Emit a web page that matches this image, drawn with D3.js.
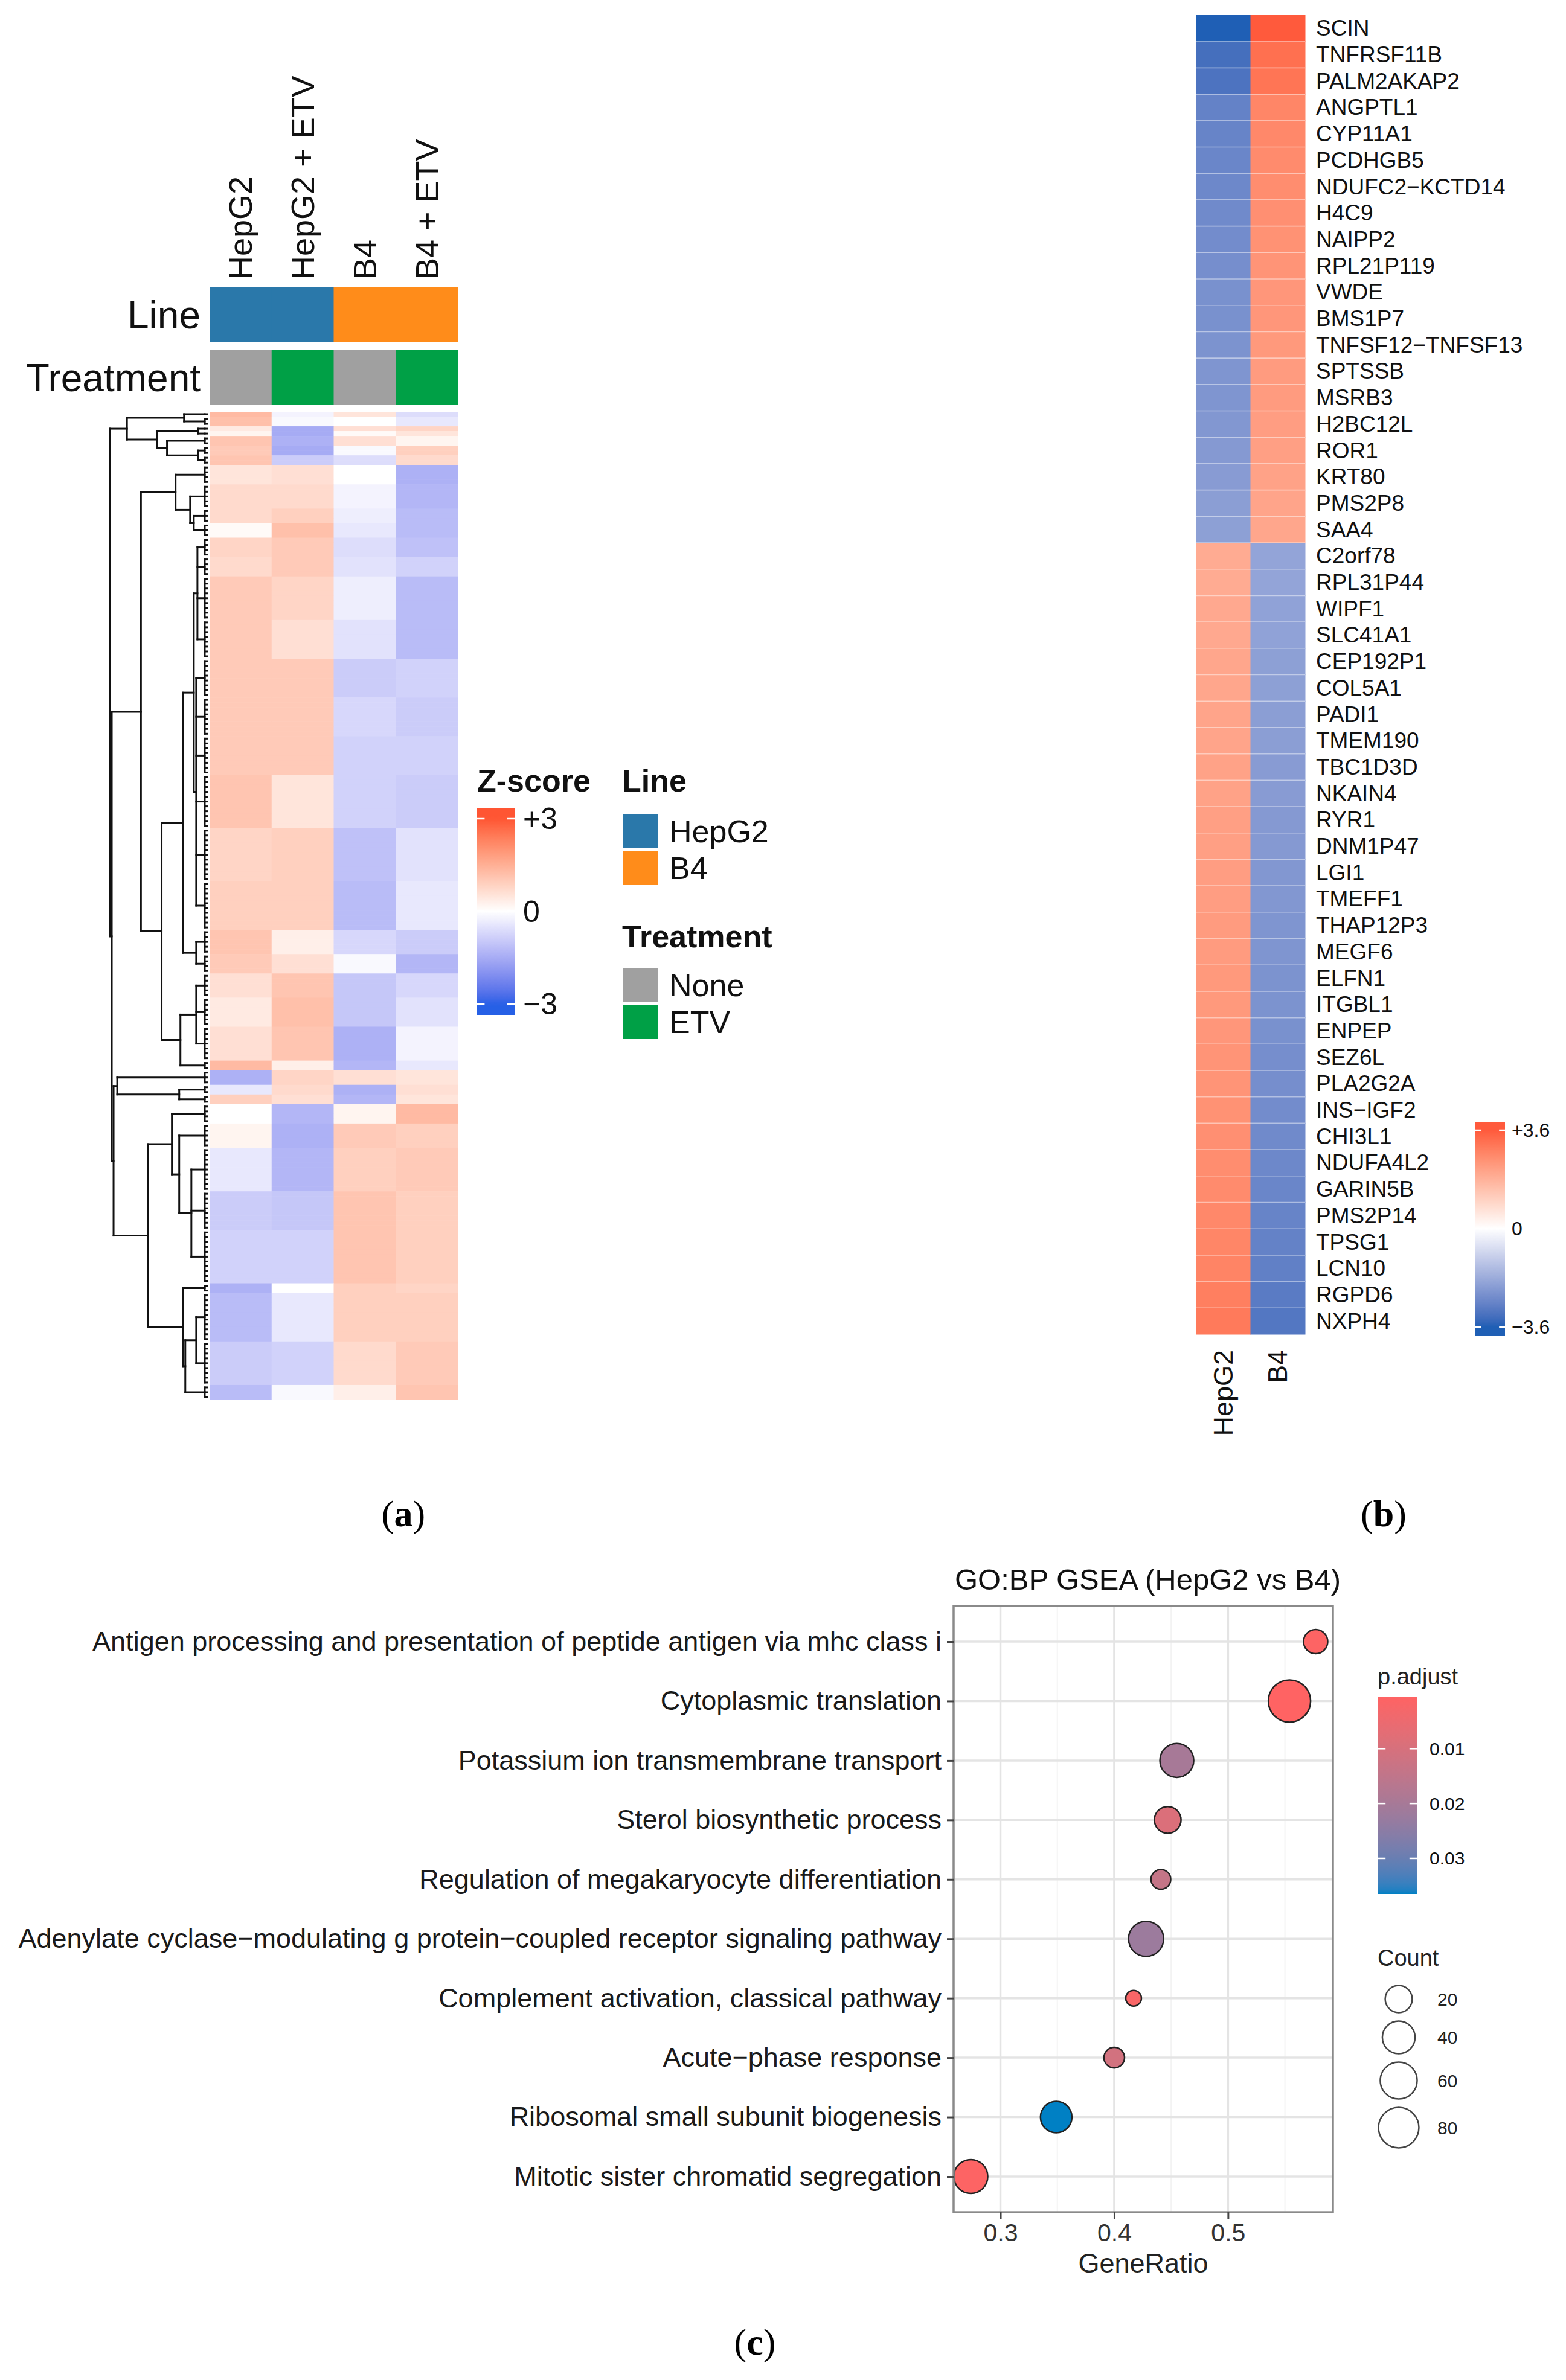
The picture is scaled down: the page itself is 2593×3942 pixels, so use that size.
<!DOCTYPE html>
<html>
<head>
<meta charset="utf-8">
<script src="https://cdn.jsdelivr.net/npm/d3@7"></script>
<style>
  body { margin: 0; background: #fff; }
  svg { display: block; font-family: "Liberation Sans", Arial, Helvetica, sans-serif; }
</style>
</head>
<body>
<svg id="fig" width="2593" height="3942"></svg>
<script>
// ---------- panel (a): z-score heatmap
const sampleNames = ['HepG2', 'HepG2 + ETV', 'B4', 'B4 + ETV'];
const sampleLine = ['HepG2', 'HepG2', 'B4', 'B4'];
const sampleTreatment = ['None', 'ETV', 'None', 'ETV'];
const lineLevels = ['HepG2', 'B4'];
const treatmentLevels = ['None', 'ETV'];

// [genes in band, HepG2, HepG2 + ETV, B4, B4 + ETV]
const zBands = [
  [1, 1.3, -0.2, 0.5, -0.6],
  [2, 1.2, -0.1, 0.0, -0.4],
  [1, 0.4, -1.5, 0.6, 0.8],
  [1, 0.2, -1.5, 0.1, 0.5],
  [2, 1.1, -1.4, 0.6, 0.2],
  [2, 1.0, -1.5, -0.1, 0.9],
  [2, 1.1, -0.9, -0.6, 0.7],
  [4, 0.5, 0.6, 0.0, -1.4],
  [5, 0.7, 0.7, -0.2, -1.3],
  [3, 0.7, 0.9, -0.3, -1.2],
  [3, 0.1, 1.2, -0.4, -1.2],
  [4, 0.8, 1.0, -0.6, -1.1],
  [4, 0.7, 1.0, -0.5, -0.8],
  [9, 1.0, 0.8, -0.3, -1.2],
  [8, 1.0, 0.6, -0.5, -1.2],
  [8, 1.0, 1.0, -0.9, -0.8],
  [8, 1.0, 1.0, -0.7, -0.9],
  [8, 1.0, 1.0, -0.8, -0.8],
  [11, 1.1, 0.5, -0.8, -0.9],
  [11, 0.8, 0.9, -1.1, -0.5],
  [10, 0.9, 0.9, -1.2, -0.4],
  [5, 1.1, 0.3, -0.7, -0.9],
  [4, 1.0, 0.6, -0.1, -1.3],
  [5, 0.6, 1.1, -1.0, -0.7],
  [6, 0.4, 1.2, -1.0, -0.5],
  [7, 0.6, 1.1, -1.4, -0.2],
  [2, 1.3, 0.3, -1.3, -0.4],
  [3, -1.4, 0.8, 0.6, 0.5],
  [2, -0.4, 0.7, -1.4, 0.6],
  [2, 0.9, 0.6, -1.3, 0.5],
  [4, 0.0, -1.3, 0.2, 1.3],
  [5, 0.2, -1.4, 1.0, 0.9],
  [9, -0.4, -1.3, 0.9, 1.0],
  [8, -0.9, -1.0, 1.1, 0.9],
  [11, -0.8, -0.8, 1.1, 0.9],
  [2, -1.4, 0.0, 0.9, 0.8],
  [10, -1.2, -0.4, 0.9, 0.9],
  [9, -0.9, -0.8, 0.7, 1.0],
  [3, -1.2, -0.1, 0.3, 1.1]
];

// row dendrogram: h = merge height, c = children, numbers = band index
const geneTree = { h: 16.0, c: [
  { h: 13.2, c: [ { h: 3.8, c: [0, 1] },
                  { h: 8.3, c: [ { h: 1.5, c: [2, 3] }, { h: 6.6, c: [4, { h: 1.5, c: [5, 6] }] } ] } ] },
  { h: 15.7, c: [
    { h: 10.9, c: [
      { h: 5.2, c: [7, { h: 2.8, c: [8, { h: 2.2, c: [9, 10] }] }] },
      { h: 7.5, c: [
        { h: 4.0, c: [ { h: 2.2, c: [ { h: 1.6, c: [11, 12, 13, 14] }, { h: 1.8, c: [15, 16, 17, 18, 19, 20] } ] },
                       { h: 1.8, c: [21, 22] } ] },
        { h: 4.4, c: [ { h: 1.8, c: [23, 24, 25] }, 26 ] }
      ] }
    ] },
    { h: 15.4, c: [
      { h: 14.8, c: [27, { h: 4.6, c: [28, 29] }] },
      { h: 9.7, c: [
        { h: 5.8, c: [30, { h: 4.6, c: [31, { h: 2.6, c: [32, 33, 34] }] }] },
        { h: 4.0, c: [35, { h: 3.6, c: [ { h: 1.8, c: [36, 37] }, 38 ] }] }
      ] }
    ] }
  ] }
] };

// ---------- panel (b): top genes HepG2 vs B4
const bSamples = ['HepG2', 'B4'];
const bGenes = ['SCIN', 'TNFRSF11B', 'PALM2AKAP2', 'ANGPTL1', 'CYP11A1', 'PCDHGB5', 'NDUFC2\u2212KCTD14',
  'H4C9', 'NAIPP2', 'RPL21P119', 'VWDE', 'BMS1P7', 'TNFSF12\u2212TNFSF13', 'SPTSSB', 'MSRB3', 'H2BC12L',
  'ROR1', 'KRT80', 'PMS2P8', 'SAA4', 'C2orf78', 'RPL31P44', 'WIPF1', 'SLC41A1', 'CEP192P1', 'COL5A1',
  'PADI1', 'TMEM190', 'TBC1D3D', 'NKAIN4', 'RYR1', 'DNM1P47', 'LGI1', 'TMEFF1', 'THAP12P3', 'MEGF6',
  'ELFN1', 'ITGBL1', 'ENPEP', 'SEZ6L', 'PLA2G2A', 'INS\u2212IGF2', 'CHI3L1', 'NDUFA4L2', 'GARIN5B',
  'PMS2P14', 'TPSG1', 'LCN10', 'RGPD6', 'NXPH4'];
const bHepG2 = [-3.6, -3.2, -3.1, -2.75, -2.7, -2.65, -2.6, -2.55, -2.5, -2.45, -2.4, -2.4, -2.35, -2.3,
  -2.3, -2.25, -2.2, -2.15, -2.1, -2.05, 1.95, 1.95, 2.0, 2.0, 2.05, 2.05, 2.1, 2.1, 2.15, 2.15, 2.2, 2.2,
  2.25, 2.25, 2.3, 2.3, 2.35, 2.35, 2.4, 2.45, 2.45, 2.5, 2.55, 2.6, 2.65, 2.7, 2.75, 2.8, 2.9, 3.0];
const bB4 = [3.6, 3.2, 3.1, 2.75, 2.7, 2.65, 2.6, 2.55, 2.5, 2.45, 2.4, 2.4, 2.35, 2.3,
  2.3, 2.25, 2.2, 2.15, 2.1, 2.05, -1.95, -1.95, -2.0, -2.0, -2.05, -2.05, -2.1, -2.1, -2.15, -2.15, -2.2, -2.2,
  -2.25, -2.25, -2.3, -2.3, -2.35, -2.35, -2.4, -2.45, -2.45, -2.5, -2.55, -2.6, -2.65, -2.7, -2.75, -2.8, -2.9, -3.0];

// ---------- panel (c): GO:BP GSEA
const goTerms = ['Antigen processing and presentation of peptide antigen via mhc class i',
  'Cytoplasmic translation', 'Potassium ion transmembrane transport', 'Sterol biosynthetic process',
  'Regulation of megakaryocyte differentiation',
  'Adenylate cyclase\u2212modulating g protein\u2212coupled receptor signaling pathway',
  'Complement activation, classical pathway', 'Acute\u2212phase response',
  'Ribosomal small subunit biogenesis', 'Mitotic sister chromatid segregation'];
const goRatio = [0.577, 0.554, 0.455, 0.447, 0.441, 0.428, 0.417, 0.400, 0.349, 0.274];
const goCount = [13, 92, 45, 19, 6, 51, 4, 7, 35, 45];
const goPadj = [0.001, 0.0005, 0.020, 0.009, 0.014, 0.022, 0.002, 0.011, 0.0365, 0.001];
const goTicks = [0.3, 0.4, 0.5];
const padjTicks = [0.01, 0.02, 0.03];
const countBreaks = [20, 40, 60, 80];

const svg = d3.select('#fig');
const defs = svg.append('defs');

function vGradient(id, y0, y1, colorAt) {
  const g = defs.append('linearGradient').attr('id', id)
    .attr('gradientUnits', 'userSpaceOnUse')
    .attr('x1', 0).attr('x2', 0).attr('y1', y0).attr('y2', y1);
  g.selectAll('stop').data(d3.range(0, 1.0001, 0.02)).join('stop')
    .attr('offset', t => t)
    .attr('stop-color', t => colorAt(y0 + t * (y1 - y0)));
}

function colorBar(g, { id, x, w, y0, y1, scale, color, ticks, fmt, labelX, fontSize }) {
  vGradient(id, y0, y1, y => color(scale.invert(y)));
  g.append('rect').attr('x', x).attr('y', y0).attr('width', w).attr('height', y1 - y0)
    .attr('fill', `url(#${id})`);
  const tk = g.selectAll('g.tk').data(ticks).join('g').attr('class', 'tk');
  tk.append('line').attr('x1', x).attr('x2', x + w * 0.2)
    .attr('y1', d => scale(d)).attr('y2', d => scale(d));
  tk.append('line').attr('x1', x + w * 0.8).attr('x2', x + w)
    .attr('y1', d => scale(d)).attr('y2', d => scale(d));
  tk.selectAll('line').attr('stroke', '#fff').attr('stroke-width', 2.5);
  tk.append('text').attr('x', labelX).attr('y', d => scale(d))
    .attr('dominant-baseline', 'central').attr('font-size', fontSize).attr('fill', '#111')
    .text(fmt);
}

function panelTag(x, y, letter) {
  svg.append('text').attr('x', x).attr('y', y).attr('text-anchor', 'middle')
    .attr('font-family', '"Liberation Serif", "Times New Roman", serif').attr('font-size', 62)
    .attr('fill', '#000')
    .call(t => {
      t.append('tspan').text('(');
      t.append('tspan').attr('font-weight', 'bold').text(letter);
      t.append('tspan').text(')');
    });
}

// ===================== (a)
(function drawA() {
  const g = svg.append('g');
  const zColor = d3.scaleLinear().domain([-3, 0, 3]).range(['#2660E6', '#FFFFFF', '#FF5533'])
    .interpolate(d3.interpolateLab).clamp(true);
  const rows = zBands.flatMap((b, bi) => d3.range(b[0]).map(() => ({ band: bi, v: b.slice(1) })));
  const colX = d3.scaleBand().domain(sampleNames).range([347, 758]);
  const rowY = d3.scaleBand().domain(d3.range(rows.length)).range([682, 2318]);
  const lineColor = d3.scaleOrdinal().domain(lineLevels).range(['#2A78AA', '#FF8C1A']);
  const treatColor = d3.scaleOrdinal().domain(treatmentLevels).range(['#A0A0A0', '#00A046']);

  // cells
  g.append('g').selectAll('g').data(rows).join('g')
    .attr('transform', (d, i) => `translate(0,${rowY(i)})`)
    .selectAll('rect').data(d => d.v).join('rect')
      .attr('x', (d, j) => colX(sampleNames[j]))
      .attr('width', colX.bandwidth() + 0.5)
      .attr('height', rowY.bandwidth() + 0.6)
      .attr('fill', d => zColor(d));

  // annotations
  const ann = [
    { name: 'Line', y: 476, h: 91, val: sampleLine, col: lineColor },
    { name: 'Treatment', y: 580, h: 91, val: sampleTreatment, col: treatColor }
  ];
  ann.forEach(a => {
    g.append('g').selectAll('rect').data(sampleNames).join('rect')
      .attr('x', d => colX(d)).attr('y', a.y)
      .attr('width', colX.bandwidth() + 0.5).attr('height', a.h)
      .attr('fill', (d, i) => a.col(a.val[i]));
    g.append('text').attr('x', 332).attr('y', a.y + a.h / 2)
      .attr('text-anchor', 'end').attr('dominant-baseline', 'central')
      .attr('font-size', 64).attr('fill', '#111').text(a.name);
  });

  // column labels
  g.append('g').selectAll('text').data(sampleNames).join('text')
    .attr('transform', d => `translate(${colX(d) + colX.bandwidth() / 2},463) rotate(-90)`)
    .attr('dominant-baseline', 'central').attr('font-size', 54).attr('fill', '#111')
    .text(d => d);

  // dendrogram
  const COMB = 0.4;
  const toNode = t => typeof t === 'number' ? { band: t, h: COMB } : { h: t.h, children: t.c.map(toNode) };
  const root = d3.hierarchy(toNode(geneTree));
  const bandStart = d3.cumsum([0, ...zBands.map(b => b[0])]);
  const rowC = i => rowY(i) + rowY.bandwidth() / 2;
  const dx = d3.scaleLinear().domain([0, 16]).range([343, 182]);
  const segs = [];
  root.eachAfter(n => {
    if (n.children) {
      n.ty = (n.children[0].ty + n.children[n.children.length - 1].ty) / 2;
    } else {
      const s = bandStart[n.data.band], c = zBands[n.data.band][0];
      n.ty = (rowC(s) + rowC(s + c - 1)) / 2;
      if (c > 1) segs.push([dx(COMB), rowC(s), dx(COMB), rowC(s + c - 1)]);
      d3.range(s, s + c).forEach(r => segs.push([dx(COMB), rowC(r), dx(0), rowC(r)]));
    }
  });
  root.each(n => {
    if (!n.children) return;
    const first = n.children[0], last = n.children[n.children.length - 1];
    segs.push([dx(n.data.h), first.ty, dx(n.data.h), last.ty]);
    n.children.forEach(ch => segs.push([dx(n.data.h), ch.ty, dx(ch.data.h), ch.ty]));
  });
  g.append('g').attr('stroke', '#111').attr('stroke-width', 3).attr('stroke-linecap', 'square')
    .selectAll('line').data(segs).join('line')
      .attr('x1', d => d[0]).attr('y1', d => d[1]).attr('x2', d => d[2]).attr('y2', d => d[3]);

  // legends
  const lg = g.append('g').attr('transform', 'translate(0,-9)');
  lg.append('text').attr('x', 790).attr('y', 1320).attr('font-size', 52).attr('font-weight', 'bold')
    .attr('fill', '#111').text('Z-score');
  colorBar(lg, {
    id: 'gradA', x: 790, w: 62, y0: 1347, y1: 1690,
    scale: d3.scaleLinear().domain([3, -3]).range([1365, 1672]),
    color: zColor, ticks: [3, 0, -3], fmt: d => d > 0 ? '+' + d : d < 0 ? '\u2212' + (-d) : '0',
    labelX: 866, fontSize: 50
  });
  const keys = [
    { title: 'Line', ty: 1320, levels: lineLevels, col: lineColor, y0: 1357 },
    { title: 'Treatment', ty: 1578, levels: treatmentLevels, col: treatColor, y0: 1612 }
  ];
  keys.forEach(k => {
    lg.append('text').attr('x', 1030).attr('y', k.ty).attr('font-size', 52).attr('font-weight', 'bold')
      .attr('fill', '#111').text(k.title);
    const it = lg.append('g').selectAll('g').data(k.levels).join('g')
      .attr('transform', (d, i) => `translate(1031,${k.y0 + i * 61})`);
    it.append('rect').attr('width', 58).attr('height', 57).attr('fill', d => k.col(d));
    it.append('text').attr('x', 77).attr('y', 29).attr('dominant-baseline', 'central')
      .attr('font-size', 52).attr('fill', '#111').text(d => d);
  });

  panelTag(668, 2528, 'a');
})();

// ===================== (b)
(function drawB() {
  const g = svg.append('g');
  const color = d3.scaleLinear().domain([-3.6, 0, 3.6]).range(['#1F5FB5', '#FFFFFF', '#FF5A3C'])
    .interpolate(d3.interpolateLab).clamp(true);
  const x = d3.scaleBand().domain(bSamples).range([1980, 2161]);
  const y = d3.scaleBand().domain(bGenes).range([25, 2210]);
  const cells = bGenes.flatMap((gene, i) => [
    { gene, s: 'HepG2', v: bHepG2[i] }, { gene, s: 'B4', v: bB4[i] }
  ]);
  g.append('g').selectAll('rect').data(cells).join('rect')
    .attr('x', d => x(d.s)).attr('y', d => y(d.gene))
    .attr('width', x.bandwidth() + 0.5).attr('height', y.bandwidth() + 0.5)
    .attr('fill', d => color(d.v));
  g.append('g').selectAll('line').data(bGenes.slice(1)).join('line')
    .attr('x1', 1980).attr('x2', 2161).attr('y1', d => y(d)).attr('y2', d => y(d))
    .attr('stroke', '#fff').attr('stroke-opacity', 0.45).attr('stroke-width', 1.6);
  g.append('g').selectAll('text').data(bGenes).join('text')
    .attr('x', 2179).attr('y', d => y(d) + y.bandwidth() / 2)
    .attr('dominant-baseline', 'central').attr('font-size', 37).attr('fill', '#111')
    .text(d => d);
  g.append('g').selectAll('text').data(bSamples).join('text')
    .attr('transform', d => `translate(${x(d) + x.bandwidth() / 2},2236) rotate(-90)`)
    .attr('text-anchor', 'end').attr('dominant-baseline', 'central')
    .attr('font-size', 45).attr('fill', '#111').text(d => d);

  colorBar(g, {
    id: 'gradB', x: 2443, w: 49, y0: 1858, y1: 2212,
    scale: d3.scaleLinear().domain([3.6, -3.6]).range([1872, 2198]),
    color, ticks: [3.6, 0, -3.6], fmt: d => d > 0 ? '+' + d : d < 0 ? '\u2212' + (-d) : '0',
    labelX: 2503, fontSize: 32
  });

  panelTag(2291, 2528, 'b');
})();

// ===================== (c)
(function drawC() {
  const g = svg.append('g');
  const data = goTerms.map((term, i) => ({ term, ratio: goRatio[i], count: goCount[i], p: goPadj[i] }));
  const panel = { x0: 1579, x1: 2207 };
  const y = d3.scalePoint().domain(goTerms).range([2719, 3605]);
  const step = y.step();
  panel.y0 = y.range()[0] - 0.6 * step; panel.y1 = y.range()[1] + 0.6 * step;
  const [rmin, rmax] = d3.extent(goRatio);
  const pad = (rmax - rmin) * 0.05;
  const x = d3.scaleLinear().domain([rmin - pad, rmax + pad]).range([panel.x0, panel.x1]);
  const pColor = d3.scaleLinear().domain(d3.extent(goPadj)).range(['#FF6363', '#0080C4'])
    .interpolate(d3.interpolateLab);
  const cNorm = d3.scaleLinear().domain(d3.extent(goCount)).range([0, 1]);
  const rad = d3.scaleLinear().domain([0, 1]).range([13, 35]);
  const radius = c => rad(Math.sqrt(Math.max(0, cNorm(c))));

  // grid
  const major = x.ticks(3), minor = x.ticks(6).filter(t => !major.some(m => Math.abs(m - t) < 1e-9));
  g.append('g').selectAll('line').data(minor).join('line')
    .attr('x1', d => x(d)).attr('x2', d => x(d)).attr('y1', panel.y0).attr('y2', panel.y1)
    .attr('stroke', '#F3F3F3').attr('stroke-width', 2);
  g.append('g').selectAll('line').data(major).join('line')
    .attr('x1', d => x(d)).attr('x2', d => x(d)).attr('y1', panel.y0).attr('y2', panel.y1)
    .attr('stroke', '#E4E4E4').attr('stroke-width', 3.5);
  g.append('g').selectAll('line').data(goTerms).join('line')
    .attr('x1', panel.x0).attr('x2', panel.x1).attr('y1', d => y(d)).attr('y2', d => y(d))
    .attr('stroke', '#E4E4E4').attr('stroke-width', 3.5);

  // points
  g.append('g').selectAll('circle').data(data).join('circle')
    .attr('cx', d => x(d.ratio)).attr('cy', d => y(d.term)).attr('r', d => radius(d.count))
    .attr('fill', d => pColor(d.p)).attr('stroke', '#222').attr('stroke-width', 2.5);

  g.append('rect').attr('x', panel.x0).attr('y', panel.y0)
    .attr('width', panel.x1 - panel.x0).attr('height', panel.y1 - panel.y0)
    .attr('fill', 'none').attr('stroke', '#8A8A8A').attr('stroke-width', 3.5);

  // axes
  const ax = g.append('g').attr('transform', `translate(0,${panel.y1})`)
    .call(d3.axisBottom(x).tickValues(goTicks).tickFormat(d3.format('.1f')).tickSize(11).tickPadding(8));
  const ay = g.append('g').attr('transform', `translate(${panel.x0},0)`)
    .call(d3.axisLeft(y).tickSize(11).tickPadding(9));
  [ax, ay].forEach(a => {
    a.select('.domain').remove();
    a.selectAll('.tick line').attr('stroke', '#444').attr('stroke-width', 3);
    a.selectAll('.tick text').attr('fill', '#1a1a1a').attr('font-family', null);
  });
  ax.selectAll('.tick text').attr('font-size', 41).attr('fill', '#333');
  ay.selectAll('.tick text').attr('font-size', 45);

  g.append('text').attr('x', (panel.x0 + panel.x1) / 2).attr('y', 3764).attr('text-anchor', 'middle')
    .attr('font-size', 45).attr('fill', '#222').text('GeneRatio');
  g.append('text').attr('x', panel.x0 + 2).attr('y', 2633)
    .attr('font-size', 49).attr('fill', '#111').text('GO:BP GSEA (HepG2 vs B4)');

  // legends
  const lg = g.append('g').attr('transform', 'translate(0,-10)');
  lg.append('text').attr('x', 2281).attr('y', 2800).attr('font-size', 38).attr('fill', '#222').text('p.adjust');
  colorBar(lg, {
    id: 'gradC', x: 2281, w: 66, y0: 2820, y1: 3147,
    scale: d3.scaleLinear().domain(d3.extent(goPadj)).range([2820, 3147]),
    color: pColor, ticks: padjTicks, fmt: d3.format('.2f'), labelX: 2367, fontSize: 30
  });
  lg.append('text').attr('x', 2281).attr('y', 3266).attr('font-size', 38).attr('fill', '#222').text('Count');
  let cy = 3321;
  const keyY = countBreaks.map((c, i) => {
    if (i > 0) cy += radius(countBreaks[i - 1]) + radius(c) + 14;
    return cy;
  });
  const key = lg.append('g').selectAll('g').data(countBreaks).join('g')
    .attr('transform', (d, i) => `translate(2316,${keyY[i]})`);
  key.append('circle').attr('r', d => radius(d)).attr('fill', 'none')
    .attr('stroke', '#444').attr('stroke-width', 2.5);
  key.append('text').attr('x', 64).attr('dominant-baseline', 'central')
    .attr('font-size', 30).attr('fill', '#222').text(d => d);

  panelTag(1250, 3900, 'c');
})();
</script>
</body>
</html>
